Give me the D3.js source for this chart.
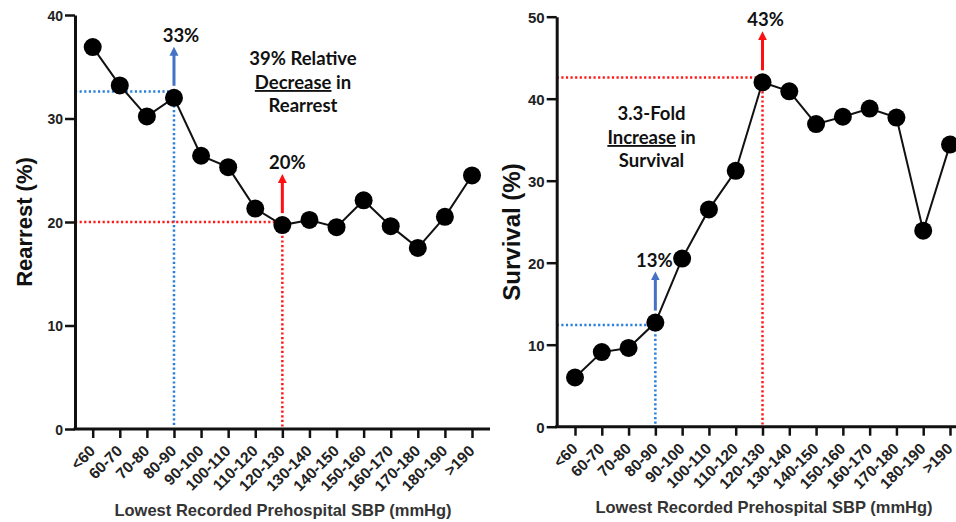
<!DOCTYPE html>
<html>
<head>
<meta charset="utf-8">
<script src="https://cdn.jsdelivr.net/npm/d3@7"></script>
<style>
  body { margin: 0; background: #fff; }
  .tick text { font-family: "Liberation Sans", Arial, sans-serif; font-weight: bold; fill: #222; }
</style>
</head>
<body>
<div id="chart"></div>
<script>
var width = 956;
var height = 522;

// data
var categories = ["<60", "60-70", "70-80", "80-90", "90-100", "100-110", "110-120", "120-130",
                  "130-140", "140-150", "150-160", "160-170", "170-180", "180-190", ">190"];
var rearrest = [36.9, 33.2, 30.2, 32.0, 26.4, 25.3, 21.3, 19.7, 20.2, 19.5, 22.1, 19.6, 17.5, 20.5, 24.5];
var survival = [6.0, 9.1, 9.6, 12.7, 20.5, 26.5, 31.2, 42.0, 40.9, 36.9, 37.8, 38.8, 37.7, 23.9, 34.4];
var rearrestTicks = [0, 10, 20, 30, 40];
var survivalTicks = [0, 10, 20, 30, 40, 50];

// reference guides (first blue, second red)
var guideCats = ["80-90", "120-130"];
var rearrestGuides = [32.6, 20.0];
var rearrestLabels = ["33%", "20%"];
var survivalGuides = [12.4, 42.6];
var survivalLabels = ["13%", "43%"];

var rearrestNote = ["39% Relative", "Decrease", " in", "Rearrest"];
var survivalNote = ["3.3-Fold", "Increase", " in", "Survival"];
var xTitle = "Lowest Recorded Prehospital SBP (mmHg)";

var svg = d3.select("#chart").append("svg")
  .attr("width", width)
  .attr("height", height);

var defs = svg.append("defs");
var addHead = function(id, col){
  defs.append("marker")
    .attr("id", id)
    .attr("viewBox", "0 0 10 10")
    .attr("refX", 1).attr("refY", 5)
    .attr("markerUnits", "userSpaceOnUse")
    .attr("markerWidth", 9).attr("markerHeight", 10)
    .attr("orient", "auto")
    .append("path").attr("d", "M0,0 L10,5 L0,10 z").attr("fill", col);
};
addHead("headBlue", "#4472c4");
addHead("headRed", "#ff1010");

var guideCol = ["#2a80dc", "#ff1a1a"];
var arrowCol = ["#4472c4", "#ff1010"];
var heads = ["url(#headBlue)", "url(#headRed)"];

var drawPanel = function(o){
  var x = d3.scalePoint().domain(categories).range(o.xRange);
  var y = d3.scaleLinear().domain([0, o.ticks[o.ticks.length-1]]).range(o.yRange);
  var g = svg.append("g");

  // dotted guides
  guideCats.forEach(function(c, i){
    var gy = y(o.guides[i]);
    g.append("line")
      .attr("x1", o.axisX).attr("x2", x(c))
      .attr("y1", gy).attr("y2", gy)
      .attr("stroke", guideCol[i]).attr("stroke-width", 2.5)
      .attr("stroke-dasharray", "2.2,2.4");
    g.append("line")
      .attr("x1", x(c)).attr("x2", x(c))
      .attr("y1", gy).attr("y2", y(0) - 2)
      .attr("stroke", guideCol[i]).attr("stroke-width", 2.5)
      .attr("stroke-dasharray", "2.2,2.4");
  });

  // axes
  var ya = g.append("g")
    .attr("transform", "translate(" + o.axisX + ",0)")
    .call(d3.axisLeft(y).tickValues(o.ticks).tickSize(10).tickSizeOuter(0).tickPadding(2));
  ya.select(".domain").attr("stroke", "#111").attr("stroke-width", 3);
  ya.selectAll(".tick line").attr("stroke", "#111").attr("stroke-width", 2.5);
  ya.selectAll(".tick text").style("font-size", o.yFont + "px").attr("dy", "0.36em");

  var xa = g.append("g")
    .attr("transform", "translate(0," + y(0) + ")")
    .call(d3.axisBottom(x).tickSize(9).tickSizeOuter(0));
  xa.select(".domain").remove();
  xa.selectAll(".tick line").attr("stroke", "#111").attr("stroke-width", 2.5);
  xa.selectAll(".tick text")
    .attr("y", 0).attr("dy", 0)
    .attr("text-anchor", "end")
    .attr("transform", "translate(3,23) rotate(-45)")
    .style("font-size", "15.5px");
  g.append("line")
    .attr("x1", o.axisX - 1.5).attr("x2", o.xEnd)
    .attr("y1", y(0)).attr("y2", y(0))
    .attr("stroke", "#111").attr("stroke-width", 3);

  // series
  var line = d3.line()
    .x(function(d, i){ return x(categories[i]); })
    .y(function(d){ return y(d); });
  g.append("path")
    .datum(o.values)
    .attr("d", line)
    .attr("fill", "none")
    .attr("stroke", "#111")
    .attr("stroke-width", 2);
  g.selectAll("circle")
    .data(o.values)
    .enter()
    .append("circle")
    .attr("cx", function(d, i){ return x(categories[i]); })
    .attr("cy", function(d){ return y(d); })
    .attr("r", 9)
    .attr("fill", "#000");

  // arrows + labels
  guideCats.forEach(function(c, i){
    var v = o.values[categories.indexOf(c)];
    var py = y(v);
    g.append("line")
      .attr("x1", x(c)).attr("x2", x(c))
      .attr("y1", py - 12).attr("y2", py - 43)
      .attr("stroke", arrowCol[i]).attr("stroke-width", 3)
      .attr("marker-end", heads[i]);
    g.append("text")
      .attr("x", x(c) + o.labelDx[i]).attr("y", py - 56)
      .attr("text-anchor", "middle")
      .style("font-family", "Lato, 'Open Sans', sans-serif")
      .style("font-weight", "bold")
      .style("font-size", "18.5px")
      .attr("fill", "#111")
      .text(o.labels[i]);
  });

  // note text
  var note = g.append("text")
    .attr("text-anchor", "middle")
    .style("font-family", "Lato, 'Open Sans', sans-serif")
    .style("font-weight", "bold")
    .style("font-size", "18.5px")
    .attr("fill", "#111");
  note.append("tspan").attr("x", o.noteX).attr("y", o.noteY).text(o.note[0]);
  var l2 = note.append("tspan").attr("x", o.noteX).attr("dy", 24);
  l2.append("tspan").style("text-decoration", "underline").text(o.note[1]);
  l2.append("tspan").text(o.note[2]);
  note.append("tspan").attr("x", o.noteX).attr("dy", 23).text(o.note[3]);

  // titles
  g.append("text")
    .attr("transform", "translate(" + o.yTitleX + "," + o.yTitleY + ") rotate(-90)")
    .attr("text-anchor", "middle")
    .style("font-family", "'Liberation Sans', Arial, sans-serif")
    .style("font-weight", "bold")
    .style("font-size", o.yTitleFont + "px")
    .attr("fill", "#111")
    .text(o.yTitle);
  g.append("text")
    .attr("x", o.xTitleX).attr("y", o.xTitleY)
    .attr("text-anchor", "middle")
    .style("font-family", "'Liberation Sans', Arial, sans-serif")
    .style("font-weight", "bold")
    .style("font-size", "16.5px")
    .attr("fill", "#333")
    .text(xTitle);
};

drawPanel({
  values: rearrest, ticks: rearrestTicks, guides: rearrestGuides, labels: rearrestLabels,
  note: rearrestNote, xRange: [92.7, 472], yRange: [429, 15], axisX: 75, xEnd: 490,
  yFont: 14, labelDx: [7, 5], noteX: 303, noteY: 65,
  yTitle: "Rearrest (%)", yTitleX: 32, yTitleY: 222, yTitleFont: 22,
  xTitleX: 283, xTitleY: 516
});

drawPanel({
  values: survival, ticks: survivalTicks, guides: survivalGuides, labels: survivalLabels,
  note: survivalNote, xRange: [575, 950], yRange: [426.7, 16.7], axisX: 556.7, xEnd: 956,
  yFont: 15, labelDx: [-1, 3], noteX: 651.5, noteY: 120,
  yTitle: "Survival (%)", yTitleX: 520, yTitleY: 232, yTitleFont: 24,
  xTitleX: 764, xTitleY: 513
});
</script>
</body>
</html>
